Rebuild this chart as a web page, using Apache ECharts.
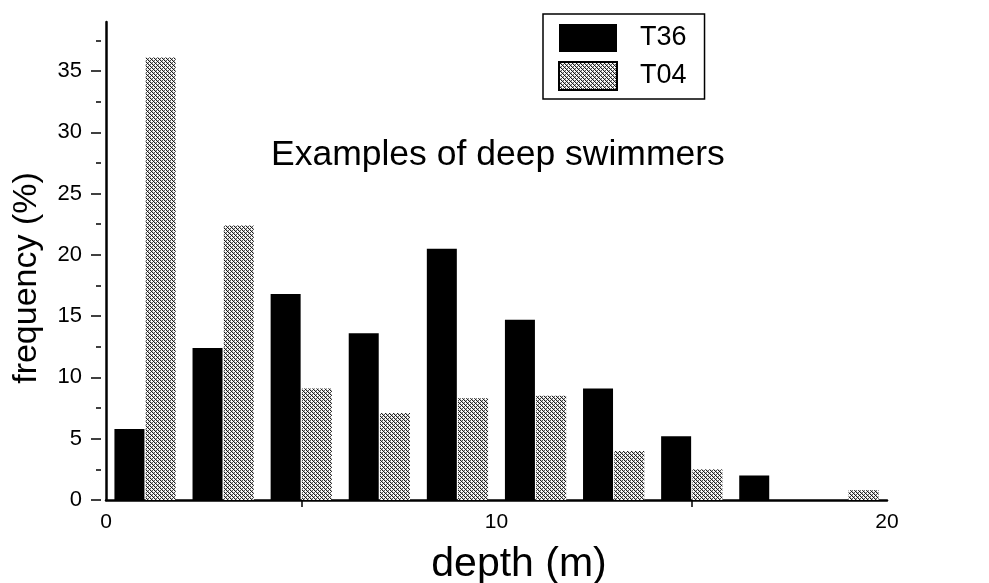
<!DOCTYPE html>
<html>
<head>
<meta charset="utf-8">
<script src="https://cdn.jsdelivr.net/npm/echarts@6/dist/echarts.min.js"></script>
<style>
  html, body { margin: 0; padding: 0; background: #fff; }
  #chart { width: 989px; height: 583px; }
</style>
</head>
<body>
<div id="chart"></div>
<script>
// ---- data ----
const t36Depth = [0.6, 2.6, 4.6, 6.6, 8.6, 10.6, 12.6, 14.6, 16.6];
const t36Freq  = [5.8, 12.4, 16.8, 13.6, 20.5, 14.7, 9.1, 5.2, 2.0];
const t04Depth = [1.4, 3.4, 5.4, 7.4, 9.4, 11.4, 13.4, 15.4, 19.4];
const t04Freq  = [36.1, 22.4, 9.1, 7.1, 8.3, 8.5, 4.0, 2.5, 0.8];
const yMajorTicks = [0, 5, 10, 15, 20, 25, 30, 35];
const yMinorTicks = [2.5, 7.5, 12.5, 17.5, 22.5, 27.5, 32.5, 37.5];
const xLabelTicks = [0, 10, 20];
const xMinorTicks = [5, 15];

// ---- stipple pattern for T04 ----
function makePattern() {
  const c = document.createElement('canvas');
  c.width = 4; c.height = 4;
  const ctx = c.getContext('2d');
  ctx.fillStyle = '#ffffff';
  ctx.fillRect(0, 0, 4, 4);
  for (let y = 0; y < 4; y++) {
    for (let x = 0; x < 4; x++) {
      const d = ((x - y) % 4 + 4) % 4;
      if (d === 0) { ctx.fillStyle = '#1a1a1a'; ctx.fillRect(x, y, 1, 1); }
      else if (d === 2 && x % 2 === 0) { ctx.fillStyle = '#555555'; ctx.fillRect(x, y, 1, 1); }
      else if (d === 1) { ctx.fillStyle = '#bbbbbb'; ctx.fillRect(x, y, 1, 1); }
    }
  }
  return c;
}
const pattern = { image: makePattern(), repeat: 'repeat' };

const FONT = 'Liberation Sans, Arial, sans-serif';
const chart = echarts.init(document.getElementById('chart'), null, { renderer: 'canvas' });

const yBase = { type: 'value', min: 0, max: 39, offset: 5, position: 'left', splitLine: { show: false } };

const option = {
  backgroundColor: '#ffffff',
  animation: false,
  grid: { left: 106, right: 102, top: 22, bottom: 83, containLabel: false },
  legend: {
    orient: 'vertical',
    left: 543, top: 14,
    padding: [10, 18, 8, 15],
    itemWidth: 58, itemHeight: 28, itemGap: 9,
    borderColor: '#000', borderWidth: 1.5,
    icon: 'rect',
    textStyle: { fontSize: 27, color: '#000', fontFamily: FONT, padding: [0, 0, 0, 18] },
    data: [
      { name: 'T36' },
      { name: 'T04', itemStyle: { borderColor: '#000', borderWidth: 2 } }
    ]
  },
  xAxis: {
    type: 'value', min: 0, max: 20, interval: 10,
    axisLine: { show: true, lineStyle: { color: '#000', width: 2.5 } },
    axisTick: { show: true, customValues: xMinorTicks, length: 7, lineStyle: { color: '#000', width: 1.5 } },
    axisLabel: { customValues: xLabelTicks, fontSize: 21, color: '#000', fontFamily: FONT, margin: 12 },
    splitLine: { show: false }
  },
  yAxis: [
    Object.assign({}, yBase, {
      axisLine: { show: true, lineStyle: { color: '#000', width: 2.5 } },
      axisTick: { show: false },
      axisLabel: { customValues: yMajorTicks, fontSize: 22, color: '#000', fontFamily: FONT, margin: 19 }
    }),
    Object.assign({}, yBase, {
      axisLine: { show: false },
      axisTick: { show: true, customValues: yMajorTicks, length: 10, lineStyle: { color: '#000', width: 1.5 } },
      axisLabel: { show: false }
    }),
    Object.assign({}, yBase, {
      axisLine: { show: false },
      axisTick: { show: true, customValues: yMinorTicks, length: 5, lineStyle: { color: '#000', width: 1.5 } },
      axisLabel: { show: false }
    })
  ],
  series: [
    {
      name: 'T36', type: 'bar', yAxisIndex: 0,
      barWidth: 30, barGap: '-100%',
      itemStyle: { color: '#000' },
      data: t36Depth.map((d, i) => [d, t36Freq[i]])
    },
    {
      name: 'T04', type: 'bar', yAxisIndex: 0,
      barWidth: 30, barGap: '-100%',
      itemStyle: { color: pattern },
      data: t04Depth.map((d, i) => [d, t04Freq[i]])
    }
  ],
  graphic: [
    {
      type: 'text', left: 271, top: 137,
      style: { text: 'Examples of deep swimmers', fontSize: 35.5, fill: '#000', fontFamily: FONT }
    },
    {
      type: 'text', x: 27, y: 278, rotation: Math.PI / 2,
      style: { text: 'frequency (%)', fontSize: 34, fill: '#000', fontFamily: FONT, align: 'center', verticalAlign: 'middle' }
    },
    {
      type: 'text', x: 519, y: 565,
      style: { text: 'depth (m)', fontSize: 41, fill: '#000', fontFamily: FONT, align: 'center', verticalAlign: 'middle' }
    }
  ]
};
chart.setOption(option);
</script>
</body>
</html>
